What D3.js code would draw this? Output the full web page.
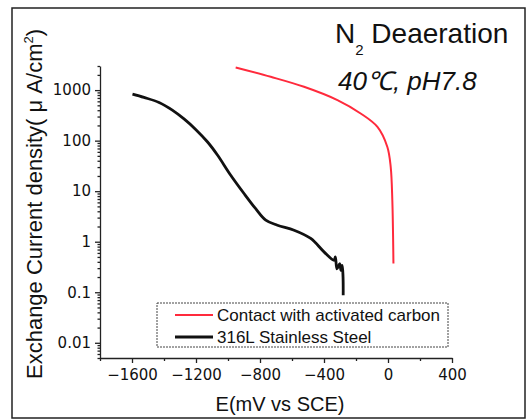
<!DOCTYPE html>
<html>
<head>
<meta charset="utf-8">
<script src="https://cdn.jsdelivr.net/npm/d3@7"></script>
<style>
  body { margin: 0; background: #fff; }
  text { font-family: "Liberation Sans", Arial, sans-serif; fill: #111; }
</style>
</head>
<body>
<div id="chart"></div>
<script>
// E (mV vs SCE) and exchange current density (uA/cm2)
const steelE = [-1597, -1525, -1431, -1348, -1275, -1202, -1129, -1066, -983, -900, -827, -764, -691, -587, -483, -400, -337, -329, -319, -302, -294, -286, -281, -280];
const steelI = [833, 716, 570, 402, 269, 167, 95, 52, 20.7, 9, 4.5, 2.67, 2.12, 1.69, 1.16, 0.63, 0.43, 0.50, 0.29, 0.37, 0.27, 0.34, 0.2, 0.087];
const carbonE = [-952, -733, -525, -316, -171, -66, -4, 17, 27, 34];
const carbonI = [2810, 1833, 1163, 634, 345, 187, 75, 30, 6.6, 0.37];

const seriesNames = ["Contact with activated carbon", "316L Stainless Steel"];
const seriesColors = ["#ff2a3c", "#111"];

const xTicks = [-1600, -1200, -800, -400, 0, 400];
const xMinor = [-1800, -1400, -1000, -600, -200, 200];
const yTicks = [0.01, 0.1, 1, 10, 100, 1000];

const width = 526, height = 419;
const svg = d3.select("#chart").append("svg")
  .attr("width", width)
  .attr("height", height);

// outer frame of the scanned figure
svg.append("rect")
  .attr("x", 12).attr("y", 8)
  .attr("width", 513).attr("height", 410)
  .attr("fill", "none")
  .attr("stroke", "#222")
  .attr("stroke-width", 1.5);

const x = d3.scaleLinear().domain([-1800, 400]).range([100, 452]);
const y = d3.scaleLog().domain([0.005, 3000]).range([358, 66]);

// minor log ticks on y
const yMinor = [];
for (let e = -3; e <= 3; e++) {
  for (let m = 2; m <= 9; m++) {
    const v = m * Math.pow(10, e);
    if (v >= 0.005 && v <= 3000) yMinor.push(v);
  }
}

svg.append("g")
  .attr("transform", `translate(0,${358})`)
  .call(d3.axisBottom(x).tickValues(xTicks).tickSize(5).tickSizeOuter(0).tickPadding(6)
    .tickFormat(d => d < 0 ? "\u2212" + Math.abs(d) : d));
svg.append("g")
  .attr("transform", `translate(0,${358})`)
  .call(d3.axisBottom(x).tickValues(xMinor).tickSize(3).tickFormat(""))
  .call(g => g.select(".domain").remove());

svg.append("g")
  .attr("transform", `translate(${100},0)`)
  .call(d3.axisLeft(y).tickValues(yTicks).tickSize(5).tickSizeOuter(0).tickPadding(4)
    .tickFormat(d => d >= 1 ? d3.format("d")(d) : String(d)));
svg.append("g")
  .attr("transform", `translate(${100},0)`)
  .call(d3.axisLeft(y).tickValues(yMinor).tickSize(2.5).tickFormat(""))
  .call(g => g.select(".domain").remove());

svg.selectAll(".tick text")
  .style("font-size", "15px")
  .style("font-family", "DejaVu Sans, sans-serif")
  .attr("fill", "#111");
svg.selectAll(".domain, .tick line").attr("stroke", "#222").attr("stroke-width", 1.3);

// curves
const line = d3.line()
  .x(d => x(d[0]))
  .y(d => y(d[1]))
  .curve(d3.curveCatmullRom.alpha(0.5));

svg.append("path")
  .datum(carbonE.map((e, i) => [e, carbonI[i]]))
  .attr("d", line)
  .attr("fill", "none")
  .attr("stroke", seriesColors[0])
  .attr("stroke-width", 2);

svg.append("path")
  .datum(steelE.map((e, i) => [e, steelI[i]]))
  .attr("d", line)
  .attr("fill", "none")
  .attr("stroke", seriesColors[1])
  .attr("stroke-width", 2.8);

// legend
const legend = svg.append("g");
legend.append("rect")
  .attr("x", 157).attr("y", 303)
  .attr("width", 291).attr("height", 44)
  .attr("fill", "#fff")
  .attr("stroke", "#444")
  .attr("stroke-width", 1)
  .attr("stroke-dasharray", "2,1");
seriesNames.forEach((name, i) => {
  const yy = 315 + i * 22;
  legend.append("line")
    .attr("x1", 175).attr("x2", 213)
    .attr("y1", yy).attr("y2", yy)
    .attr("stroke", seriesColors[i])
    .attr("stroke-width", i === 0 ? 2 : 2.8);
  legend.append("text")
    .attr("x", 217).attr("y", yy + 6)
    .style("font-size", "17px")
    .text(name);
});

// axis titles
svg.append("text")
  .attr("x", 280).attr("y", 411)
  .attr("text-anchor", "middle")
  .style("font-size", "20px")
  .text("E(mV vs SCE)");

const yl = svg.append("text")
  .attr("transform", "translate(42,204) rotate(-90)")
  .attr("text-anchor", "middle")
  .style("font-size", "22px");
yl.append("tspan").text("Exchange Current density( \u03bc A/cm");
yl.append("tspan").attr("dy", -9).style("font-size", "13px").text("2");
yl.append("tspan").attr("dy", 9).text(")");

// annotation
const t1 = svg.append("text")
  .attr("x", 335).attr("y", 43)
  .style("font-size", "28px");
t1.append("tspan").text("N");
t1.append("tspan").attr("dy", 12).style("font-size", "15px").text("2");
t1.append("tspan").attr("dy", -12).text(" Deaeration");

svg.append("text")
  .attr("x", 338).attr("y", 90)
  .style("font-size", "26px")
  .style("font-style", "italic")
  .text("40\u2103, pH7.8");
</script>
</body>
</html>
